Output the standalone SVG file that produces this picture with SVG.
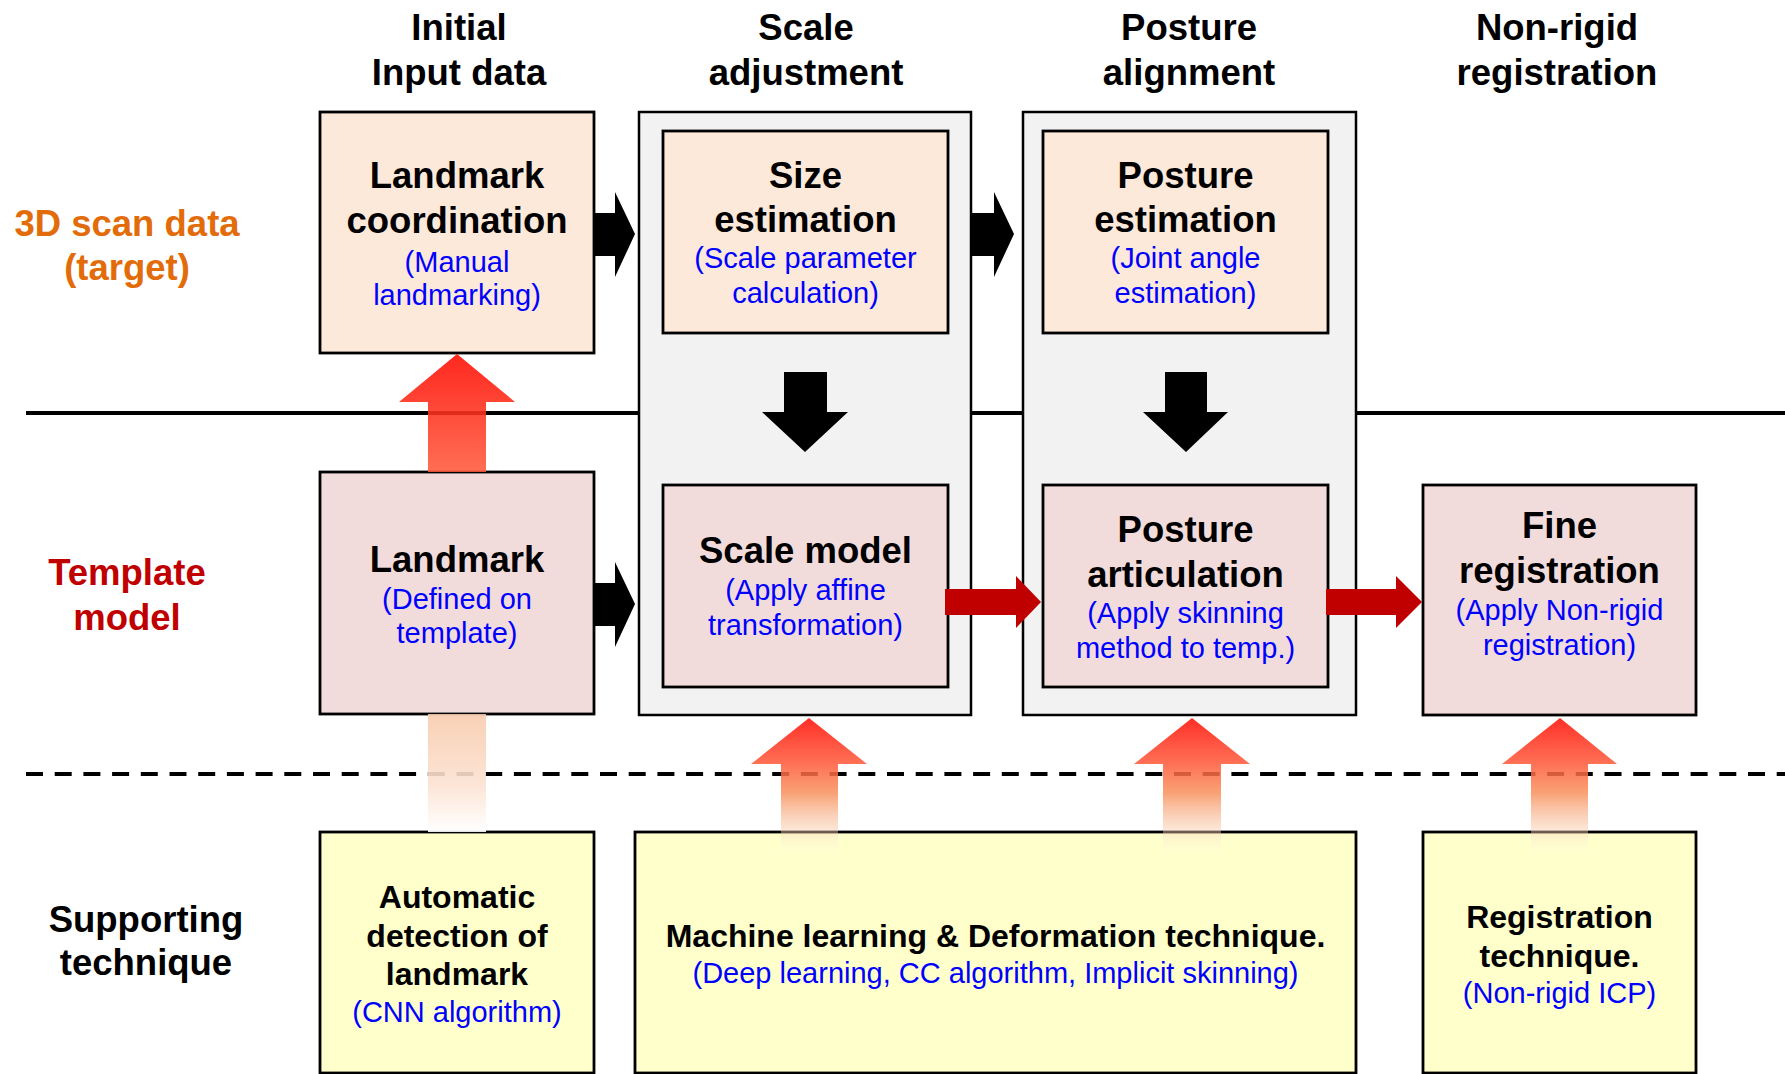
<svg xmlns="http://www.w3.org/2000/svg" width="1785" height="1074" viewBox="0 0 1785 1074">
<style>
text{font-family:"Liberation Sans",Arial,sans-serif;text-anchor:middle}
.h{font-size:36.5px;font-weight:bold;fill:#000}
.t{font-size:36.5px;font-weight:bold;fill:#000}
.b{font-size:29px;fill:#0000FF}
.s{font-size:32px;font-weight:bold;fill:#000}
.grp{fill:#F2F2F2;stroke:#000;stroke-width:2.5}
.pe{fill:#FCE9DA;stroke:#000;stroke-width:2.8}
.pk{fill:#F2DCDB;stroke:#000;stroke-width:2.8}
.ye{fill:#FFFFCC;stroke:#000;stroke-width:2.8}
</style>
<defs>
<linearGradient id="gUp" x1="0" y1="0" x2="0" y2="1">
<stop offset="0" stop-color="#FF0A00"/>
<stop offset="0.34" stop-color="#FF5A3A"/>
<stop offset="0.55" stop-color="#F7925E"/>
<stop offset="0.8" stop-color="#F8C8A8" stop-opacity="0.6"/>
<stop offset="1" stop-color="#FFFFFF" stop-opacity="0"/>
</linearGradient>
<linearGradient id="gBig" x1="0" y1="0" x2="0" y2="1">
<stop offset="0" stop-color="#FF0A00"/>
<stop offset="1" stop-color="#FF5A3C"/>
</linearGradient>
<linearGradient id="gFade" x1="0" y1="0" x2="0" y2="1">
<stop offset="0" stop-color="#F8CBAD"/>
<stop offset="0.6" stop-color="#FBE2D2"/>
<stop offset="1" stop-color="#FFFFFF"/>
</linearGradient>
</defs>

<g id="lines">
<line x1="26" y1="413" x2="1785" y2="413" stroke="#000" stroke-width="4"/>
<line x1="26" y1="774" x2="1785" y2="774" stroke="#000" stroke-width="4" stroke-dasharray="17 11.7"/>
</g>

<g id="headers">
<text class="h" x="459" y="40">Initial</text>
<text class="h" x="459" y="85">Input data</text>
<text class="h" x="806" y="40">Scale</text>
<text class="h" x="806" y="85">adjustment</text>
<text class="h" x="1189" y="40">Posture</text>
<text class="h" x="1189" y="85">alignment</text>
<text class="h" x="1557" y="40">Non-rigid</text>
<text class="h" x="1557" y="85">registration</text>
</g>

<g id="row-labels">
<text class="h" x="127" y="236" style="fill:#E36C0A">3D scan data</text>
<text class="h" x="127" y="280" style="fill:#E36C0A">(target)</text>
<text class="h" x="127" y="585" style="fill:#C00000">Template</text>
<text class="h" x="127" y="630" style="fill:#C00000">model</text>
<text class="h" x="146" y="932">Supporting</text>
<text class="h" x="146" y="975">technique</text>
</g>

<g id="group-scale"><rect class="grp" x="639" y="112" width="332" height="603"/></g>
<g id="group-posture"><rect class="grp" x="1023" y="112" width="333" height="603"/></g>

<g id="landmark-coordination">
<rect class="pe" x="320" y="112" width="274" height="241"/>
<text class="t" x="457" y="188">Landmark</text>
<text class="t" x="457" y="233">coordination</text>
<text class="b" x="457" y="272">(Manual</text>
<text class="b" x="457" y="305">landmarking)</text>
</g>

<g id="size-estimation">
<rect class="pe" x="663" y="131" width="285" height="202"/>
<text class="t" x="805.5" y="188">Size</text>
<text class="t" x="805.5" y="232">estimation</text>
<text class="b" x="805.5" y="268">(Scale parameter</text>
<text class="b" x="805.5" y="303">calculation)</text>
</g>

<g id="posture-estimation">
<rect class="pe" x="1043" y="131" width="285" height="202"/>
<text class="t" x="1185.5" y="188">Posture</text>
<text class="t" x="1185.5" y="232">estimation</text>
<text class="b" x="1185.5" y="268">(Joint angle</text>
<text class="b" x="1185.5" y="303">estimation)</text>
</g>

<g id="landmark-template">
<rect class="pk" x="320" y="472" width="274" height="242"/>
<text class="t" x="457" y="572">Landmark</text>
<text class="b" x="457" y="609">(Defined on</text>
<text class="b" x="457" y="643">template)</text>
</g>

<g id="scale-model">
<rect class="pk" x="663" y="485" width="285" height="202"/>
<text class="t" x="805.5" y="563">Scale model</text>
<text class="b" x="805.5" y="600">(Apply affine</text>
<text class="b" x="805.5" y="635">transformation)</text>
</g>

<g id="posture-articulation">
<rect class="pk" x="1043" y="485" width="285" height="202"/>
<text class="t" x="1185.5" y="542">Posture</text>
<text class="t" x="1185.5" y="587">articulation</text>
<text class="b" x="1185.5" y="623">(Apply skinning</text>
<text class="b" x="1185.5" y="658">method to temp.)</text>
</g>

<g id="fine-registration">
<rect class="pk" x="1423" y="485" width="273" height="230"/>
<text class="t" x="1559.5" y="538">Fine</text>
<text class="t" x="1559.5" y="583">registration</text>
<text class="b" x="1559.5" y="620">(Apply Non-rigid</text>
<text class="b" x="1559.5" y="655">registration)</text>
</g>

<g id="automatic-detection">
<rect class="ye" x="320" y="832" width="274" height="241"/>
<text class="s" x="457" y="908">Automatic</text>
<text class="s" x="457" y="947">detection of</text>
<text class="s" x="457" y="985">landmark</text>
<text class="b" x="457" y="1022">(CNN algorithm)</text>
</g>

<g id="machine-learning">
<rect class="ye" x="635" y="832" width="721" height="241"/>
<text class="s" x="995.5" y="947">Machine learning &amp; Deformation technique.</text>
<text class="b" x="995.5" y="983">(Deep learning, CC algorithm, Implicit skinning)</text>
</g>

<g id="registration-technique">
<rect class="ye" x="1423" y="832" width="273" height="241"/>
<text class="s" x="1559.5" y="928">Registration</text>
<text class="s" x="1559.5" y="967">technique.</text>
<text class="b" x="1559.5" y="1003">(Non-rigid ICP)</text>
</g>

<g id="connectors">
<polygon fill="#000" points="594,213 615,213 615,192 635,234 615,277 615,256 594,256"/>
<polygon fill="#000" points="971,213 994,213 994,192 1014,234 994,277 994,256 971,256"/>
<polygon fill="#000" points="594,583 615,583 615,562 635,604 615,647 615,626 594,626"/>
<polygon fill="#000" points="784,372 827,372 827,412 848,412 805,452 762,412 784,412"/>
<polygon fill="#000" points="1165,372 1207,372 1207,412 1228,412 1186,452 1143,412 1165,412"/>
<polygon fill="#C00000" points="945,589 1016,589 1016,576 1041,602 1016,628 1016,615 945,615"/>
<polygon fill="#C00000" points="1326,589 1396,589 1396,576 1422,602 1396,628 1396,615 1326,615"/>
<polygon fill="url(#gBig)" fill-opacity="0.88" points="428,472 428,402 399,402 457,354 515,402 486,402 486,472"/>
<rect fill="url(#gFade)" fill-opacity="0.9" x="428" y="714" width="58" height="118"/>
<polygon fill="url(#gUp)" fill-opacity="0.85" points="781,855 781,764 751,764 809,718 867,764 838,764 838,855"/>
<polygon fill="url(#gUp)" fill-opacity="0.85" points="1163,855 1163,764 1134,764 1192,718 1250,764 1221,764 1221,855"/>
<polygon fill="url(#gUp)" fill-opacity="0.85" points="1531,855 1531,764 1502,764 1560,718 1617,764 1588,764 1588,855"/>
</g>
</svg>
